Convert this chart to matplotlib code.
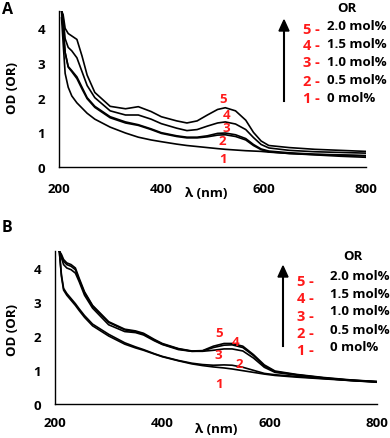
import matplotlib.pyplot as plt

plt.rcParams['font.family'] = ['Open Sans', 'DejaVu Sans']
plt.rcParams['font.weight'] = 'bold'

# panel A spectra (wavelength nm, OD)
wl_a = [205, 208, 212, 218, 225, 235, 245, 255, 270, 300, 330, 355, 380, 400, 430, 450,
        470, 490, 510, 525, 545, 565, 580, 595, 610, 650, 700, 750, 800]
a5 = [4.5, 4.4, 4.0, 3.85, 3.78, 3.68, 3.2, 2.65, 2.15, 1.75, 1.68, 1.74, 1.6, 1.45, 1.33, 1.27,
      1.33, 1.5, 1.66, 1.71, 1.62, 1.35, 1.0, 0.75, 0.62, 0.56, 0.51, 0.48, 0.45]
a4 = [4.5, 4.3, 3.7, 3.45, 3.35, 3.15, 2.75, 2.35, 2.0, 1.62, 1.5, 1.5, 1.38, 1.25, 1.12, 1.05,
      1.08, 1.18, 1.27, 1.3, 1.24, 1.08, 0.85, 0.65, 0.55, 0.48, 0.44, 0.42, 0.4]
a3 = [4.5, 4.0, 3.3, 2.9, 2.78, 2.6, 2.3, 2.0, 1.75, 1.45, 1.3, 1.22, 1.1, 0.99, 0.9, 0.86,
      0.86, 0.9, 0.97, 0.98, 0.93, 0.82, 0.65, 0.52, 0.46, 0.41, 0.37, 0.35, 0.33]
a2 = [4.5, 4.0, 3.3, 2.88, 2.75, 2.55, 2.25, 1.97, 1.72, 1.42, 1.27, 1.2, 1.08, 0.97, 0.88, 0.84,
      0.84, 0.87, 0.92, 0.93, 0.88, 0.78, 0.62, 0.5, 0.44, 0.39, 0.36, 0.34, 0.32]
a1 = [4.3, 3.6, 2.7, 2.3, 2.05, 1.85, 1.7, 1.55, 1.38, 1.15, 0.98, 0.86, 0.78, 0.73, 0.66, 0.62,
      0.59, 0.56, 0.53, 0.51, 0.49, 0.47, 0.46, 0.45, 0.43, 0.39, 0.35, 0.31, 0.28]

# panel B spectra
wl_b = [208, 212, 216, 222, 230, 238, 245, 255, 270, 300, 330, 350, 365, 385, 400, 430, 455,
        475, 495, 515, 530, 550, 570, 590, 610, 650, 700, 750, 800]
b5 = [4.5, 4.4, 4.25, 4.15, 4.1, 4.0, 3.7, 3.3, 2.9, 2.42, 2.2, 2.15, 2.08, 1.9, 1.78, 1.63, 1.56,
      1.57, 1.7, 1.78, 1.78, 1.7, 1.45, 1.15, 0.97, 0.87, 0.78, 0.71, 0.66]
b4 = [4.5, 4.35, 4.2, 4.1, 4.05, 3.95, 3.65, 3.27, 2.88, 2.4, 2.18, 2.12, 2.06, 1.88, 1.76, 1.62, 1.55,
      1.56, 1.66, 1.73, 1.74, 1.66, 1.42, 1.12, 0.95, 0.86, 0.77, 0.7, 0.65]
b3 = [4.5, 4.3, 4.1, 4.0, 3.95, 3.85, 3.6, 3.2, 2.82, 2.33, 2.13, 2.1, 2.03, 1.86, 1.75, 1.6, 1.55,
      1.55, 1.58, 1.62, 1.62, 1.56, 1.35, 1.08, 0.93, 0.85, 0.76, 0.69, 0.64]
b2 = [4.5, 3.8, 3.4, 3.25, 3.1, 2.95, 2.8, 2.6, 2.35, 2.05, 1.8, 1.68, 1.6, 1.48, 1.4, 1.28, 1.2,
      1.16, 1.14, 1.15, 1.14, 1.08, 0.99, 0.9, 0.86, 0.81, 0.75, 0.7, 0.66]
b1 = [4.5, 3.75, 3.35, 3.2, 3.05, 2.9, 2.75, 2.55, 2.3, 2.0, 1.76, 1.65, 1.58, 1.47, 1.39, 1.27, 1.18,
      1.13, 1.09, 1.06, 1.03, 0.98, 0.93, 0.88, 0.84, 0.79, 0.74, 0.69, 0.65]

mol_labels = ['2.0 mol%', '1.5 mol%', '1.0 mol%', '0.5 mol%', '0 mol%']
nums = ['5', '4', '3', '2', '1']
# curve number label positions (nm, OD)
lab_a = [(520, 1.97), (527, 1.52), (527, 1.13), (520, 0.77), (520, 0.25)]
lab_b = [(505, 2.1), (537, 1.85), (505, 1.47), (543, 1.2), (505, 0.6)]

W, H = 390, 439
fig = plt.figure(figsize=(W / 100, H / 100), dpi=100)


def box(l, t, r, b):
    return [l / W, 1 - b / H, (r - l) / W, (b - t) / H]


def ftext(x, y, s, **kw):
    fig.text(x / W, 1 - y / H, s, **kw)


def panel(rect, wl, curves, labs, xpad):
    ax = fig.add_axes(rect)
    for c in curves:
        ax.plot(wl, c, color='black', lw=1.2)
    for n, (x, y) in zip(nums, labs):
        ax.text(x, y, n, color='#ff1a1a', fontsize=9.5, ha='center', va='center', fontweight='bold')
    ax.set_xlim(200, 800)
    ax.set_ylim(0, 4.5)
    ax.set_xticks([200, 400, 600, 800])
    ax.set_yticks([0, 1, 2, 3, 4])
    for s in ['top', 'right']:
        ax.spines[s].set_visible(False)
    for s in ['left', 'bottom']:
        ax.spines[s].set_linewidth(1.0)
    ax.tick_params(length=0, labelsize=9.5)
    ax.tick_params(axis='x', pad=xpad)
    ax.tick_params(axis='y', pad=10)
    return ax


ax_a = panel(box(59, 12, 366, 168), wl_a, [a5, a4, a3, a2, a1], lab_a, 11)
ax_b = panel(box(55, 252, 377, 405), wl_b, [b5, b4, b3, b2, b1], lab_b, 9)

# axis titles and panel letters
ftext(206, 194, 'λ (nm)', fontsize=9.5, ha='center', va='center')
ftext(216, 430, 'λ (nm)', fontsize=9.5, ha='center', va='center')
ftext(12, 88, 'OD (OR)', fontsize=9.5, ha='center', va='center', rotation=90)
ftext(12, 330, 'OD (OR)', fontsize=9.5, ha='center', va='center', rotation=90)
ftext(2, 10, 'A', fontsize=11.5, ha='left', va='center')
ftext(2, 228, 'B', fontsize=11.5, ha='left', va='center')

# legend A
ftext(347, 8, 'OR', fontsize=9.5, ha='center', va='center')
fig.add_artist(plt.Line2D([284 / W, 284 / W], [1 - 102 / H, 1 - 30 / H], color='black', lw=1.5))
fig.add_artist(plt.Polygon([[279 / W, 1 - 32 / H], [289 / W, 1 - 32 / H], [284 / W, 1 - 21 / H]],
                           closed=True, color='black'))
ya_num = [30, 46, 63, 82, 99]
ya_mol = [27, 45, 63, 81, 99]
for n, m, yn, ym in zip(nums, mol_labels, ya_num, ya_mol):
    ftext(303, yn, n + ' -', fontsize=10.5, color='#ff1a1a', ha='left', va='center')
    ftext(327, ym, m, fontsize=9.5, ha='left', va='center')

# legend B
ftext(353, 257, 'OR', fontsize=9.5, ha='center', va='center')
fig.add_artist(plt.Line2D([283 / W, 283 / W], [1 - 347 / H, 1 - 276 / H], color='black', lw=1.5))
fig.add_artist(plt.Polygon([[278 / W, 1 - 278 / H], [288 / W, 1 - 278 / H], [283 / W, 1 - 267 / H]],
                           closed=True, color='black'))
yb_num = [282, 299, 317, 334, 351]
yb_mol = [277, 294, 312, 330, 348]
for n, m, yn, ym in zip(nums, mol_labels, yb_num, yb_mol):
    ftext(297, yn, n + ' -', fontsize=10.5, color='#ff1a1a', ha='left', va='center')
    ftext(330, ym, m, fontsize=9.5, ha='left', va='center')

fig.savefig('out.png', dpi=100)
